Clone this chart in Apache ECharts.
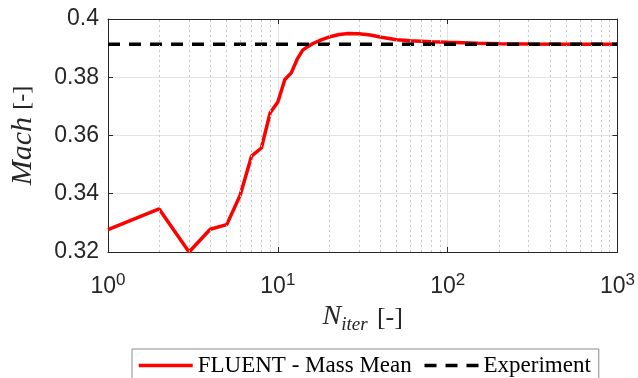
<!DOCTYPE html>
<html>
<head>
<meta charset="utf-8">
<script src="https://cdn.jsdelivr.net/npm/echarts@6/dist/echarts.min.js"></script>
<style>
  html, body { margin: 0; padding: 0; background: #fff; }
  #chart { width: 638px; height: 378px; }
</style>
</head>
<body>
<div id="chart"></div>
<script>
// Iteration counts and mass-mean Mach number from the FLUENT run
const iterations = [1, 2, 3, 4, 5, 6, 7, 8, 9, 10, 11, 12, 13, 14, 15, 16, 18, 20, 23, 26,
                    30, 35, 40, 50, 60, 80, 100, 150, 200, 300, 500, 700, 1000];
const fluentMach = [0.3277, 0.3348, 0.3200, 0.3278, 0.3294, 0.3395, 0.3529, 0.3557, 0.3677, 0.3715,
                    0.3792, 0.3815, 0.3862, 0.3893, 0.3905, 0.3915, 0.3928, 0.3938, 0.3947, 0.3950,
                    0.3949, 0.3945, 0.3938, 0.3929, 0.3925, 0.3922, 0.3920, 0.3917, 0.3915, 0.3914,
                    0.3913, 0.3913, 0.3913];
// Measured reference value, spanning the whole iteration range
const experimentIter = [1, 1000];
const experimentMach = [0.3913, 0.3913];
// Axis tick values
const yTicks = [0.32, 0.34, 0.36, 0.38, 0.4];
const xDecades = [1, 10, 100, 1000];

// Intermediate log-decade lines (2..9 within each decade)
const minorLines = [];
for (let d = 0; d < xDecades.length - 1; d++) {
  for (let k = 2; k <= 9; k++) minorLines.push({ xAxis: xDecades[d] * k });
}

const axisColor = '#262626';
const sans = 'Liberation Sans';
const serif = 'Liberation Serif';

const chart = echarts.init(document.getElementById('chart'), null, { renderer: 'canvas' });

const baseX = {
  type: 'log',
  logBase: 10,
  min: xDecades[0],
  max: xDecades[xDecades.length - 1],
  axisLine: { show: true, lineStyle: { color: axisColor, width: 1 } },
  axisTick: { show: true, inside: true, length: 5, lineStyle: { color: axisColor } }
};
const baseY = {
  type: 'value',
  min: yTicks[0],
  max: yTicks[yTicks.length - 1],
  interval: 0.02,
  axisLine: { show: true, lineStyle: { color: axisColor, width: 1 } },
  axisTick: { show: true, inside: true, length: 5, lineStyle: { color: axisColor } }
};

chart.setOption({
  animation: false,
  backgroundColor: '#fff',
  grid: { left: 107, right: 19, top: 19, bottom: 126, containLabel: false },
  xAxis: [
    Object.assign({}, baseX, {
      position: 'bottom',
      name: '{i|N}{sub|iter} {n|[-]}',
      nameLocation: 'middle',
      nameGap: 46,
      nameTextStyle: {
        rich: {
          i: { fontFamily: serif, fontStyle: 'italic', fontSize: 28, color: axisColor, verticalAlign: 'bottom', lineHeight: 32 },
          sub: { fontFamily: serif, fontStyle: 'italic', fontSize: 19, color: axisColor, verticalAlign: 'bottom', lineHeight: 22, padding: [0, 0, -4, 0] },
          n: { fontFamily: serif, fontSize: 26, color: axisColor, verticalAlign: 'bottom', lineHeight: 32, padding: [0, 0, 0, 6] }
        }
      },
      axisLabel: {
        show: true,
        margin: 20,
        formatter: v => '{b|10}{s|' + Math.round(Math.log10(v)) + '}',
        rich: {
          b: { fontFamily: sans, fontSize: 23, color: axisColor, verticalAlign: 'bottom', lineHeight: 26 },
          s: { fontFamily: sans, fontSize: 17, color: axisColor, verticalAlign: 'top', lineHeight: 26 }
        }
      },
      splitLine: { show: true, lineStyle: { color: '#e3e3e3', width: 1 } }
    }),
    Object.assign({}, baseX, {
      position: 'top',
      axisLabel: { show: false },
      splitLine: { show: false }
    })
  ],
  yAxis: [
    Object.assign({}, baseY, {
      position: 'left',
      name: '{i|Mach} {n|[-]}',
      nameLocation: 'middle',
      nameGap: 70,
      nameTextStyle: {
        rich: {
          i: { fontFamily: serif, fontStyle: 'italic', fontSize: 30, color: axisColor },
          n: { fontFamily: serif, fontSize: 24, color: axisColor, padding: [0, 0, 0, 4] }
        }
      },
      axisLabel: { show: true, margin: 9, fontFamily: sans, fontSize: 23, color: axisColor },
      splitLine: { show: true, lineStyle: { color: '#e3e3e3', width: 1 } }
    }),
    Object.assign({}, baseY, {
      position: 'right',
      axisLabel: { show: false },
      splitLine: { show: false }
    })
  ],
  legend: {
    left: 132,
    top: 349,
    orient: 'horizontal',
    itemWidth: 54,
    itemHeight: 14,
    itemGap: 11,
    padding: [5, 8, 10, 5],
    borderColor: '#8a8a8a',
    borderWidth: 1,
    backgroundColor: '#fff',
    itemStyle: { opacity: 0 },
    lineStyle: { width: 3.5 },
    textStyle: { fontFamily: serif, fontSize: 23, color: '#000' },
    data: ['FLUENT - Mass Mean', 'Experiment']
  },
  series: [
    {
      name: 'FLUENT - Mass Mean',
      type: 'line',
      data: iterations.map((n, i) => [n, fluentMach[i]]),
      symbol: 'none',
      lineStyle: { color: '#ff0000', width: 3.5 },
      itemStyle: { color: '#ff0000' },
      markLine: {
        silent: true,
        symbol: 'none',
        label: { show: false },
        lineStyle: { color: '#c8c8c8', width: 1, type: [2, 3] },
        data: minorLines
      },
      z: 2
    },
    {
      name: 'Experiment',
      type: 'line',
      data: experimentIter.map((n, i) => [n, experimentMach[i]]),
      symbol: 'none',
      lineStyle: { color: '#000', width: 3.5, type: [12, 9] },
      itemStyle: { color: '#000' },
      z: 3
    }
  ]
});
</script>
</body>
</html>
